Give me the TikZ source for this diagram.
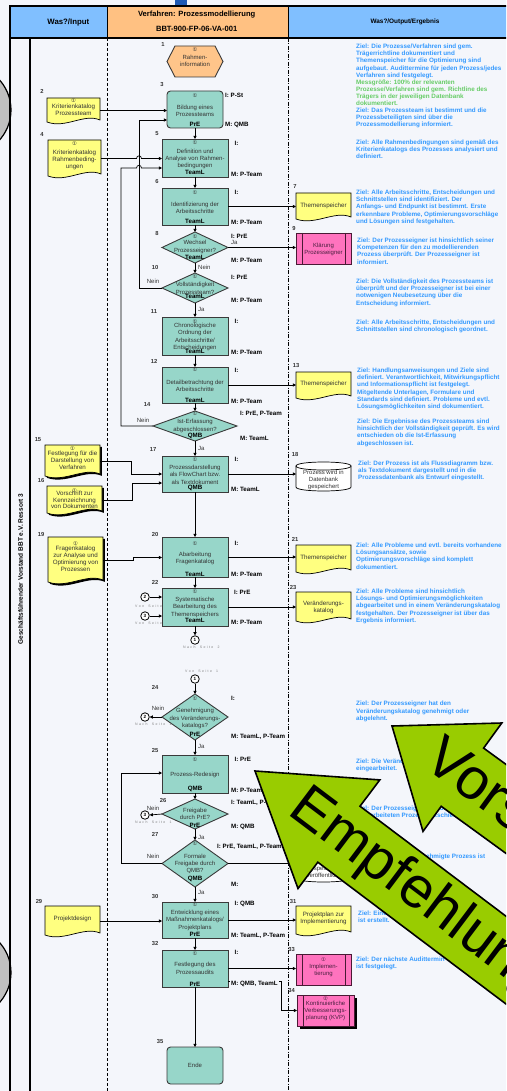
\documentclass[tikz,border=0pt]{standalone}
\usepackage{fontspec}
\setmainfont{Liberation Sans}
\newfontfamily\symfont{DejaVu Sans}
\usetikzlibrary{arrows.meta,shapes.geometric}
\definecolor{bg}{HTML}{F4F6FB}
\definecolor{headblue}{HTML}{80BFFF}
\definecolor{headorange}{HTML}{FFC182}
\definecolor{topblue}{HTML}{1F5AB4}
\definecolor{boxteal}{HTML}{97D6C9}
\definecolor{docyellow}{HTML}{FFFF80}
\definecolor{pinkfill}{HTML}{FF73BE}
\definecolor{hexfill}{HTML}{FFC58A}
\definecolor{zielblue}{HTML}{3399FF}
\definecolor{zielgreen}{HTML}{66CC66}
\definecolor{arrowgreen}{HTML}{99CC00}
\definecolor{boxline}{HTML}{3A3A3A}
\definecolor{txtgray}{HTML}{333333}
\definecolor{circgray}{HTML}{C0C0C0}
\definecolor{pinkline}{HTML}{4A1A35}
\definecolor{pinktext}{HTML}{4A2040}
\definecolor{pggray}{HTML}{808080}
\newcommand{\ls}{\hspace{1.4pt}}
\newcommand{\PB}[8]{%
  \node[pbox, minimum width=66, minimum height=#3] (#1) at (195,#2) {};
  \node[symlab] at (195,#4) {①};
  \node[ptext] at (195,#5) {#6};
  \node[rolelab] at (195,#7) {#8};
}
\newcommand{\DOC}[6]{%
  \path[draw=black, line width=0.7, fill=#6] (#2,#3) -- (#4,#3) -- (#4,{#5-3}) .. controls ({#2+0.7*(#4-#2)},{#5-10}) and ({#2+0.35*(#4-#2)},{#5+6}) .. (#2,{#5-1}) -- cycle;
  \node[inner sep=0, outer sep=0, minimum width={#4-#2}, minimum height={#5-#3}] (#1) at ({(#2+#4)/2},{(#3+#5)/2}) {};
}
\newcommand{\DOCSH}[6]{%
  \path[fill=black] ({#2+1.8},{#3+1.8}) -- ({#4+1.8},{#3+1.8}) -- ({#4+1.8},{#5-1.2}) .. controls ({#2+0.7*(#4-#2)+1.8},{#5-8.2}) and ({#2+0.35*(#4-#2)+1.8},{#5+7.8}) .. ({#2+1.8},{#5+0.8}) -- cycle;
  \DOC{#1}{#2}{#3}{#4}{#5}{#6}%
}
\newcommand{\CYL}[5]{%
  \path[draw=black, line width=0.7, fill=white] (#2,{#3+4}) -- (#2,{#5-4}) .. controls (#2,{#5+1.33}) and (#4,{#5+1.33}) .. (#4,{#5-4}) -- (#4,{#3+4}) -- cycle;
  \path[draw=black, line width=0.7, fill=white] (#2,{#3+4}) .. controls (#2,{#3-1.33}) and (#4,{#3-1.33}) .. (#4,{#3+4}) .. controls (#4,{#3+9.33}) and (#2,{#3+9.33}) .. (#2,{#3+4}) -- cycle;
  \node[inner sep=0, outer sep=0, minimum width={#4-#2}, minimum height={#5-#3}] (#1) at ({(#2+#4)/2},{(#3+#5)/2}) {};
}
\newcommand{\ZL}[3]{\node[ziel] at (#1,{#2-2.2}) {#3};}
\tikzset{
 pbox/.style={draw=boxline, fill=boxteal, line width=0.9, inner sep=0, outer sep=0},
 ptext/.style={font=\fontsize{6}{7.2}\selectfont, text=txtgray, align=center, inner sep=0},
 rolelab/.style={font=\fontsize{6.2}{7}\selectfont\bfseries, inner sep=0},
 symlab/.style={font=\symfont\fontsize{5.3}{5.3}\selectfont, text=txtgray, inner sep=0},
 numlab/.style={font=\fontsize{5.8}{6}\selectfont\bfseries, text=txtgray, inner sep=0},
 iml/.style={font=\fontsize{6.2}{7}\selectfont\bfseries, inner sep=0, anchor=west},
 flowlab/.style={font=\fontsize{6}{7}\selectfont, text=txtgray, inner sep=0},
 dtext/.style={font=\fontsize{6.2}{6.9}\selectfont, text=txtgray, align=center, inner sep=0},
 ziel/.style={font=\fontsize{6.3}{7.15}\selectfont\bfseries, text=zielblue, align=left, anchor=north west, inner sep=0},
 arr/.style={draw=black, line width=0.7, -{Triangle[length=3.2pt,width=3.2pt]}},
 conn/.style={circle, draw=black, fill=white, line width=0.8, minimum size=8.5, inner sep=0, font=\fontsize{4.6}{5}\selectfont\bfseries},
 pglab/.style={font=\fontsize{3.5}{4}\selectfont, text=pggray, inner sep=0, anchor=west},
 pinkbox/.style={draw=pinkline, fill=pinkfill, line width=0.9, inner sep=0, outer sep=0},
 ptxt/.style={font=\fontsize{6}{6.9}\selectfont, text=pinktext, align=center, inner sep=0},
 bigtext/.style={font=\fontsize{58}{60}\selectfont, inner sep=0, anchor=west},
 bigarrow/.style={fill=arrowgreen, draw=black, line width=1.6, line join=miter},
}
\begin{document}
\begin{tikzpicture}[x=1pt,y=-1pt]
\useasboundingbox (0,0) rectangle (506,1091);
\clip (0,0) rectangle (506,1091);
\fill[bg] (0,0) rectangle (506,1091);
\fill[topblue] (175,0) rectangle (187,5.5);
% side circles
\filldraw[fill=circgray, draw=black, line width=1.2] (-34,110) circle [radius=45pt];
\filldraw[fill=circgray, draw=black, line width=1.2] (-34,972.5) circle [radius=45pt];
% header
\fill[headblue] (10,6) rectangle (107,38);
\fill[headorange] (107,6) rectangle (288,38);
\fill[headblue] (288,6) rectangle (510,38);
\draw[line width=0.8] (107,6) -- (107,38) (288,6) -- (288,38);
\draw[line width=1.8] (10,1095) -- (10,6) -- (510,6);
\draw[line width=1.8] (10,38) -- (510,38);
\draw[line width=1.5] (30,38) -- (30,1095);
\draw[line width=0.7, dash pattern=on 3pt off 2pt] (107,38) -- (107,1095);
\draw[line width=0.7, dash pattern=on 4pt off 1.5pt on 1pt off 1.5pt] (288,38) -- (288,1095);
\node[font=\fontsize{7.8}{8}\selectfont\bfseries, inner sep=0] (hin) at (68.3,22.7) {Was?/Input};
\node[font=\fontsize{7.6}{8}\selectfont\bfseries, inner sep=0] (hv1) at (196.7,15) {Verfahren: Prozessmodellierung};
\node[font=\fontsize{7.6}{8}\selectfont\bfseries, inner sep=0] (hv2) at (196.7,29.3) {BBT-900-FP-06-VA-001};
\node[font=\fontsize{6.4}{7}\selectfont\bfseries, inner sep=0] (hout) at (405,22.3) {Was?/Output/Ergebnis};
\node[font=\fontsize{6.5}{7}\selectfont\bfseries, rotate=90, inner sep=0] (vlab) at (20.5,569) {Geschäftsführender Vorstand BBT e.V. Ressort 3};

% page labels (under boxes)
\node[pglab] at (135,606) {V\ls o\ls n\ls\ls\ls S\ls e\ls i\ls t\ls e\ls\ls\ls 2};
\node[pglab] at (135,623.5) {V\ls o\ls n\ls\ls\ls S\ls e\ls i\ls t\ls e\ls\ls\ls 2};
\node[pglab] at (183,647.7) {N\ls a\ls c\ls h\ls\ls\ls S\ls e\ls i\ls t\ls e\ls\ls\ls 2};
\node[pglab] at (185,671.7) {V\ls o\ls n\ls\ls\ls S\ls e\ls i\ls t\ls e\ls\ls\ls 1};
\node[pglab] at (135,724.5) {N\ls a\ls c\ls h\ls\ls\ls S\ls e\ls i\ls t\ls e\ls\ls\ls 1};
\node[pglab] at (135,822.7) {N\ls a\ls c\ls h\ls\ls\ls S\ls e\ls i\ls t\ls e\ls\ls\ls 1};

% hexagon 1
\path[draw=boxline, fill=hexfill, line width=0.9] (167,61.5) -- (175,46) -- (215,46) -- (223,61.5) -- (215,77) -- (175,77) -- cycle;
\node[inner sep=0, minimum width=56, minimum height=31] (h1) at (195,61.5) {};
\node[symlab] at (195,49.5) {①};
\node[ptext] at (195,61) {Rahmen-\\information};

% process boxes
\node[pbox, rounded corners=3.5, minimum width=56, minimum height=37] (b3) at (195,109.5) {};
\node[symlab] at (195,95.3) {①};
\node[ptext] at (195,110.7) {Bildung eines\\Prozessteams};
\node[rolelab] at (195,124) {PrE};
\PB{b5}{158}{38}{143}{159}{Definition und\\Analyse von Rahmen-\\bedingungen}{172.7}{TeamL}
\PB{b6}{206.5}{37}{192.3}{207.5}{Identifizierung der\\Arbeitsschritte}{221.7}{TeamL}
\PB{b11}{336}{38}{321.7}{337}{Chronologische\\Ordnung der\\Arbeitsschritte/\\Entscheidungen}{351.7}{TeamL}
\PB{b12}{385}{36}{370}{385.7}{Detailbetrachtung der\\Arbeitsschritte}{400}{TeamL}
\PB{b17}{474}{36}{459.3}{474.7}{Prozessdarstellung\\als FlowChart bzw.\\als Textdokument}{488.3}{QMB}
\PB{b20}{557}{40}{543.3}{558.7}{Abarbeitung\\Fragenkatalog}{574}{TeamL}
\PB{b22}{607}{38}{591.7}{607.3}{Systematische\\Bearbeitung des\\Themenspeichers}{620.7}{TeamL}
\PB{b25}{774}{38}{759.3}{775}{Prozess-Redesign}{789.3}{QMB}
\PB{b30}{920}{36}{905}{920.3}{Entwicklung eines\\Maßnahmenkatalogs/\\Projektplans}{934.3}{PrE}
\PB{b32}{968.5}{37}{953.3}{968.3}{Festlegung des\\Prozessaudits}{984}{PrE}
\node[pbox, rounded corners=3.5, minimum width=56, minimum height=37] (b35) at (195,1065.5) {};
\node[ptext] at (195,1065.7) {Ende};

% diamonds
\node[pbox, diamond, minimum width=66, minimum height=31] (d8) at (195,247.5) {};
\node[symlab] at (195,236.7) {①};
\node[ptext] at (195,247) {Wechsel\\Prozesseigner?};
\node[rolelab] at (195,257.3) {TeamL};
\node[pbox, diamond, minimum width=66, minimum height=30] (d10) at (195,288) {};
\node[symlab] at (195,276.7) {①};
\node[ptext] at (195,288.3) {Vollständigkeit\\Prozessteam?};
\node[rolelab] at (195,296.7) {TeamL};
\node[pbox, diamond, minimum width=84, minimum height=30] (d14) at (195,426) {};
\node[symlab] at (195,413.3) {①};
\node[ptext] at (195,426) {Ist-Erfassung\\abgeschlossen?};
\node[rolelab] at (195,436) {QMB};
\node[pbox, diamond, minimum width=66, minimum height=46] (d24) at (195,717) {};
\node[symlab] at (195,698.3) {①};
\node[ptext] at (195,718.5) {Genehmigung\\des Veränderungs-\\katalogs?};
\node[rolelab] at (195,734.3) {PrE};
\node[pbox, diamond, minimum width=66, minimum height=30] (d26) at (195,814) {};
\node[ptext] at (195,814.2) {Freigabe\\durch PrE?};
\node[rolelab] at (195,825) {PrE};
\node[pbox, diamond, minimum width=66, minimum height=47] (d27) at (195,863.5) {};
\node[symlab] at (195,843.3) {①};
\node[ptext] at (195,863.7) {Formale\\Freigabe durch\\QMB?};
\node[rolelab] at (195,879.3) {QMB};

% documents
\DOC{doc2}{47}{98}{100}{123}{docyellow}
\node[symlab] at (73.5,100.7) {①};
\node[dtext] at (73.5,109.4) {Kriterienkatalog\\Prozessteam};
\DOC{doc4}{48}{140}{101}{177}{docyellow}
\node[symlab] at (74.5,144) {①};
\node[dtext] at (74.5,160) {Kriterienkatalog\\Rahmenbeding-\\ungen};
\DOC{doc7}{296}{193}{351}{220}{docyellow}
\node[dtext] at (323.5,206) {Themenspeicher};
\DOC{doc13}{296}{372}{351}{399}{docyellow}
\node[dtext] at (323.5,384.3) {Themenspeicher};
\DOCSH{doc15}{45}{445}{100}{477}{docyellow}
\node[symlab] at (72.5,448.3) {①};
\node[dtext] at (72.5,460.2) {Festlegung für die\\Darstellung von\\Verfahren};
\DOCSH{doc16}{47}{486}{102}{514}{docyellow}
\node[symlab] at (74.5,491) {①};
\node[dtext] at (74.5,499.8) {Vorschrift zur\\Kennzeichnung\\von Dokumenten};
\DOCSH{doc19}{48}{537}{103}{583}{docyellow}
\node[symlab] at (75.5,543.3) {①};
\node[dtext] at (75.5,558.8) {Fragenkatalog\\zur Analyse und\\Optimierung von\\Prozessen};
\DOC{doc21}{296}{545}{351}{573}{docyellow}
\node[dtext] at (323.5,558.3) {Themenspeicher};
\DOC{doc23}{296}{592}{351}{622}{docyellow}
\node[dtext] at (323.5,607) {Veränderungs-\\katalog};
\DOC{doc29}{45}{906}{100}{936}{docyellow}
\node[dtext] at (72.5,919.3) {Projektdesign};
\DOC{doc31}{296}{906}{351}{935}{docyellow}
\node[dtext] at (323.5,918.8) {Projektplan zur\\Implementierung};

% predefined processes
\node[pinkbox, minimum width=55, minimum height=31] (p9) at (323.5,248.5) {};
\draw[pinkline, line width=0.9] ([xshift=6pt]p9.north west) -- ([xshift=6pt]p9.south west) ([xshift=-6pt]p9.north east) -- ([xshift=-6pt]p9.south east);
\node[ptxt] at (323.5,249) {Klärung\\Prozesseigner};
\node[pinkbox, minimum width=55, minimum height=31] (p33) at (323.5,969.5) {};
\draw[pinkline, line width=0.9] ([xshift=6pt]p33.north west) -- ([xshift=6pt]p33.south west) ([xshift=-6pt]p33.north east) -- ([xshift=-6pt]p33.south east);
\node[symlab, text=pinktext] at (323.5,959.3) {①};
\node[ptxt] at (323.5,970.3) {Implemen-\\tierung};
\fill[black] (300,998) rectangle (357,1029);
\node[pinkbox, minimum width=57, minimum height=31] (p34) at (325.5,1010.5) {};
\draw[pinkline, line width=0.9] ([xshift=6pt]p34.north west) -- ([xshift=6pt]p34.south west) ([xshift=-5pt]p34.north east) -- ([xshift=-5pt]p34.south east);
\node[symlab, text=pinktext] at (325.5,998.7) {②};
\node[ptxt] at (325.5,1011.3) {Kontinuierliche\\Verbesserungs-\\planung (KVP)};

% cylinders
\CYL{c18}{296}{462}{351}{491}
\node[dtext, font=\fontsize{6}{7}\selectfont] at (323.5,480) {Prozess wird in\\Datenbank\\gespeichert};
\CYL{c28}{296}{850}{351}{882}
\node[dtext, font=\fontsize{6}{7}\selectfont] at (323.5,868) {Prozess wird\\gespeichert/\\veröffentlicht};

% connector circles
\node[conn] (cn2a) at (145,597) {2};
\node[conn] (cn3a) at (145,616) {3};
\node[conn] (cn1a) at (195,640) {1};
\node[conn] (cn1b) at (195,679) {1};
\node[conn] (cn2b) at (145,717) {2};
\node[conn] (cn3b) at (145,815) {3};

% vertical flow
\draw[arr] (b3.south) -- (b5.north);
\draw[arr] (b5.south) -- (b6.north);
\draw[arr] (b6.south) -- (d8.north);
\draw[arr] (d8.south) -- (d10.north);
\draw[arr] (d10.south) -- (b11.north);
\draw[arr] (b11.south) -- (b12.north);
\draw[arr] (b12.south) -- (d14.north);
\draw[arr] (d14.south) -- (b17.north);
\draw[arr] (b17.south) -- (b20.north);
\draw[arr] (b20.south) -- (b22.north);
\draw[arr] (b22.south) -- (cn1a.north);
\draw[arr] (cn1b.south) -- (d24.north);
\draw[arr] (d24.south) -- (b25.north);
\draw[arr] (b25.south) -- (d26.north);
\draw[arr] (d26.south) -- (d27.north);
\draw[arr] (d27.south) -- (b30.north);
\draw[arr] (b30.south) -- (b32.north);
\draw[arr] (b32.south) -- (b35.north);
% inputs
\draw[arr] (doc2.east) -- (doc2.east -| b3.west);
\draw[arr] (doc4.east) -- (136.5,158.5) .. controls (136.5,155) and (141.5,155) .. (141.5,158.5) -- (doc4.east -| b5.west);
\coordinate (j15) at (131,474);
\coordinate (j16) at (132,483);
\coordinate (j19) at (133,557.5);
\draw[arr] (doc15.east) -| (j15) -- (j15 -| b17.west);
\draw[arr] (doc16.east) -| (j16) -- (j16 -| b17.west);
\draw[arr] (doc19.east) -| (j19) -- (j19 -| b20.west);
\draw[arr] (doc29.east) -- (doc29.east -| b30.west);
% loops
\coordinate (la) at (139,120);
\draw[arr] (d10.west) -| (la) -- (la -| b3.west);
\coordinate (lb) at (121,168);
\draw[arr] (d14.west) -| (lb) -- (136.5,168) .. controls (136.5,164.5) and (141.5,164.5) .. (141.5,168) -- (lb -| b5.west);
\coordinate (lc) at (121,773);
\draw[arr] (d27.west) -| (lc) -- (lc -| b25.west);
% outputs
\draw[arr] (b6.east) -- (b6.east -| doc7.west);
\draw[arr] (d8.east) -- (d8.east -| p9.west);
\draw[arr] (b12.east) -- (b12.east -| doc13.west);
\draw[arr] (b17.east) -- (b17.east -| c18.west);
\draw[arr] (b20.east) -- (b20.east -| doc21.west);
\draw[arr] (b22.east) -- (b22.east -| doc23.west);
\draw[arr] (d27.east) -- (d27.east -| c28.west);
\draw[arr] (b30.east) -- (b30.east -| doc31.west);
\draw[arr] (b32.east) -- (b32.east -| p33.west);
\coordinate (k34) at (281,981);
\draw[arr] (b32.east |- k34) -- (k34) |- (p34.west);
% off-page connectors
\draw[arr] (cn2a.east) -- (cn2a.east -| b22.west);
\draw[arr] (cn3a.east) -- (cn3a.east -| b22.west);
\draw[arr] (d24.west) -- (cn2b.east);
\draw[arr] (d26.west) -- (cn3b.east);

% flow labels
\node[flowlab, anchor=west] at (231,242.3) {Ja};
\node[flowlab, anchor=west] at (198,267.7) {Nein};
\node[flowlab] at (153,281.7) {Nein};
\node[flowlab, anchor=west] at (198,309.5) {Ja};
\node[flowlab] at (143,420) {Nein};
\node[flowlab, anchor=west] at (198,448.3) {Ja};
\node[flowlab] at (158,708.5) {Nein};
\node[flowlab, anchor=west] at (198,746.7) {Ja};
\node[flowlab] at (153,808.3) {Nein};
\node[flowlab, anchor=west] at (198,837.3) {Ja};
\node[flowlab] at (153,856.7) {Nein};
\node[flowlab, anchor=west] at (198,892.7) {Ja};

% I / M labels
\node[iml] at (225,95) {I: P-St};
\node[iml] at (225,125) {M: QMB};
\node[iml] at (234.5,143.3) {I:};
\node[iml] at (231,174) {M: P-Team};
\node[iml] at (234.5,192.3) {I:};
\node[iml] at (231,222) {M: P-Team};
\node[iml] at (231,236.3) {I: PrE};
\node[iml] at (231,260) {M: P-Team};
\node[iml] at (231,277) {I: PrE};
\node[iml] at (231,300) {M: P-Team};
\node[iml] at (234.5,321.3) {I:};
\node[iml] at (231,352.3) {M: P-Team};
\node[iml] at (234.5,370) {I:};
\node[iml] at (231,401) {M: P-Team};
\node[iml] at (240,414) {I: PrE, P-Team};
\node[iml] at (240,438.3) {M: TeamL};
\node[iml] at (234.5,459) {I:};
\node[iml] at (231,489.7) {M: TeamL};
\node[iml] at (234.5,543) {I:};
\node[iml] at (231,574) {M: P-Team};
\node[iml] at (234,592) {I: PrE};
\node[iml] at (231,622.7) {M: P-Team};
\node[iml] at (231,698.3) {I:};
\node[iml] at (231,737.3) {M: TeamL, P-Team};
\node[iml] at (234.5,759) {I: PrE};
\node[iml] at (231,790) {M: P-Team};
\node[iml] at (231,802.7) {I: TeamL, P-Team};
\node[iml] at (231,826.7) {M: QMB};
\node[iml] at (217,846.7) {I: PrE, TeamL, P-Team};
\node[iml] at (231,884) {M:};
\node[iml] at (234.5,904) {I: QMB};
\node[iml] at (231,936) {M: TeamL, P-Team};
\node[iml] at (234.5,952.7) {I:};
\node[iml, fill=bg, inner sep=1.2] at (229.8,984) {M: QMB, TeamL};

% numbers
\foreach \t/\x/\y in {1/163/44.3, 2/42/91, 3/162/85, 4/42/135, 5/157/134, 6/157/182, 7/295/187, 8/157/233.3, 9/294/228.3, 10/155/267.3, 11/154/312, 12/154/361, 13/296/365.7, 14/147/405, 15/38/440, 16/41/480.7, 17/153/450, 18/295/454, 19/41/534.7, 20/155/534, 21/295/539.3, 22/155/582.7, 23/293/588, 24/155/687.7, 25/155/750, 26/163/800, 27/155/834, 29/39/901, 30/155/896, 31/293/901, 32/155/943.3, 33/291.7/949, 34/291.7/990.7, 35/160/1041}
  \node[numlab] at (\x,\y) {\t};

% Ziel texts
\ZL{356}{46}{Ziel: Die Prozesse/Verfahren sind gem.\\Trägerrichtline dokumentiert und\\Themenspeicher für die Optimierung sind\\aufgebaut. Audittermine für jeden Prozess/jedes\\Verfahren sind festgelegt.}
\node[ziel, text=zielgreen] at (356,{81.7-2.2}) {Messgröße: 100\% der relevanten\\Prozesse/Verfahren sind gem. Richtline des\\Trägers in der jeweiligen Datenbank\\dokumentiert.};
\ZL{356}{109.6}{Ziel: Das Prozessteam ist bestimmt und die\\Prozessbeteiligten sind über die\\Prozessmodellierung informiert.}
\ZL{356}{142}{Ziel: Alle Rahmenbedingungen sind gemäß des\\Kriterienkatalogs des Prozesses analysiert und\\definiert.}
\ZL{356}{192}{Ziel: Alle Arbeitsschritte, Entscheidungen und\\Schnittstellen sind identifiziert. Der\\Anfangs- und Endpunkt ist bestimmt. Erste\\erkennbare Probleme, Optimierungsvorschläge\\und Lösungen sind festgehalten.}
\ZL{357}{240}{Ziel: Der Prozesseigner ist hinsichtlich seiner\\Kompetenzen für den zu modellierenden\\Prozess überprüft. Der Prozesseigner ist\\informiert.}
\ZL{356}{281}{Ziel: Die Vollständigkeit des Prozessteams ist\\überprüft und der Prozesseigner ist bei einer\\notwenigen Neubesetzung über die\\Entscheidung informiert.}
\ZL{356}{322}{Ziel: Alle Arbeitsschritte, Entscheidungen und\\Schnittstellen sind chronologisch geordnet.}
\ZL{357}{370}{Ziel: Handlungsanweisungen und Ziele sind\\definiert. Verantwortlichkeit, Mitwirkungspflicht\\und Informationspflicht ist festgelegt.\\Mitgeltende Unterlagen, Formulare und\\Standards sind definiert. Probleme und evtl.\\Lösungsmöglichkeiten sind dokumentiert.}
\ZL{357}{421}{Ziel: Die Ergebnisse des Prozessteams sind\\hinsichtlich der Vollständigkeit geprüft. Es wird\\entschieden ob die Ist-Erfassung\\abgeschlossen ist.}
\ZL{358}{463}{Ziel: Der Prozess ist als Flussdiagramm bzw.\\als Textdokument dargestellt und in die\\Prozessdatenbank als Entwurf eingestellt.}
\ZL{356}{545}{Ziel: Alle Probleme und evtl. bereits vorhandene\\Lösungsansätze, sowie\\Optimierungsvorschläge sind komplett\\dokumentiert.}
\ZL{356}{591}{Ziel: Alle Probleme sind hinsichtlich\\Lösungs- und Optimierungsmöglichkeiten\\abgearbeitet und in einem Veränderungskatalog\\festgehalten. Der Prozesseigner ist über das\\Ergebnis informiert.}
\ZL{356}{703.3}{Ziel: Der Prozesseigner hat den\\Veränderungskatalog genehmigt oder\\abgelehnt.}
\ZL{356}{761}{Ziel: Die Veränderungen sind in den Prozess\\eingearbeitet.}
\ZL{356}{808}{Ziel: Der Prozesseigner hat über den\\überarbeiteten Prozess entschieden.}
\ZL{356}{856}{Ziel: Der vom QMB genehmigte Prozess ist\\veröffentlicht.}
\ZL{358}{913}{Ziel: Eine Projektplanung zur Implementierung\\ist erstellt.}
\ZL{356}{959}{Ziel: Der nächste Audittermin\\ist festgelegt.}

% big green arrows
\path[bigarrow] (392,726) -- (501.8,723) -- (483.6,748.1) -- (807.2,983.3) -- (764.8,1041.5) -- (441.2,806.3) -- (423,831.4) -- cycle;
\node[bigtext, rotate=-36] (vtext) at (430,753.6) {Vorschlag};
\path[bigarrow] (255,771) -- (379.8,779.9) -- (360,806.2) -- (679.6,1047) -- (637.4,1103) -- (317.8,862.2) -- (298,888.5) -- cycle;
\node[bigtext, rotate=-37] (etext) at (295,801) {Empfehlung};
\end{tikzpicture}
\end{document}
